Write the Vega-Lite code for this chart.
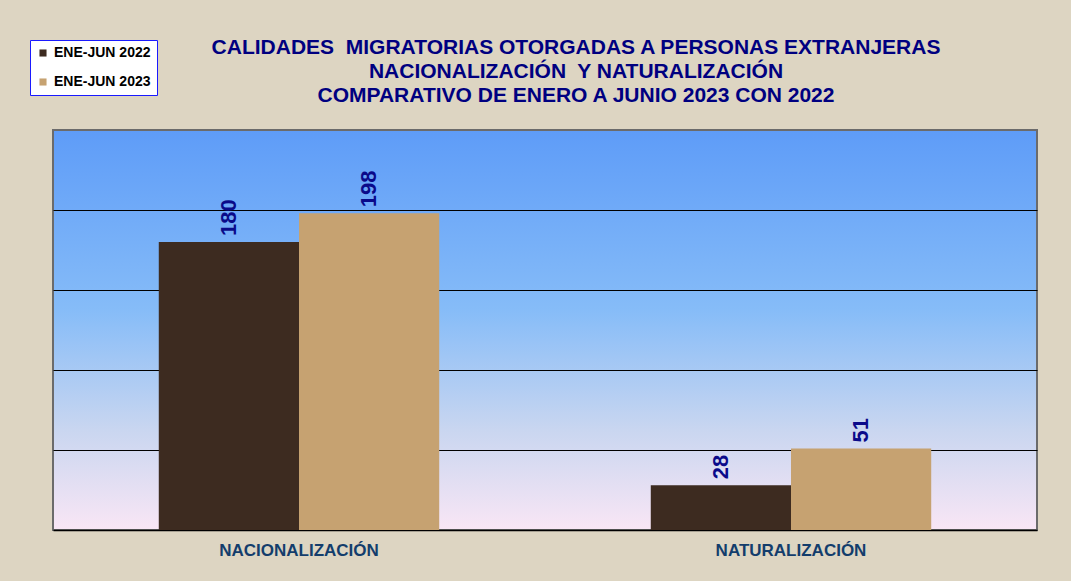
{
  "$schema": "https://vega.github.io/schema/vega-lite/v6.json",
  "width": 984,
  "height": 400,
  "autosize": {"type": "none"},
  "padding": {"left": 53, "top": 130, "right": 34, "bottom": 51},
  "background": "#ddd5c2",
  "title": {
    "text": [
      "CALIDADES\u00a0 MIGRATORIAS OTORGADAS A PERSONAS EXTRANJERAS",
      "NACIONALIZACIÓN\u00a0 Y NATURALIZACIÓN",
      "COMPARATIVO DE ENERO A JUNIO 2023 CON 2022"
    ],
    "anchor": "middle",
    "frame": "group",
    "dx": 31,
    "offset": -66,
    "font": "Liberation Sans",
    "fontSize": 21,
    "fontWeight": "bold",
    "color": "#000080",
    "lineHeight": 24
  },
  "data": {
    "values": [
      {"categoria": "NACIONALIZACIÓN", "periodo": "ENE-JUN 2022", "valor": 180},
      {"categoria": "NACIONALIZACIÓN", "periodo": "ENE-JUN 2023", "valor": 198},
      {"categoria": "NATURALIZACIÓN", "periodo": "ENE-JUN 2022", "valor": 28},
      {"categoria": "NATURALIZACIÓN", "periodo": "ENE-JUN 2023", "valor": 51}
    ]
  },
  "encoding": {
    "x": {
      "field": "categoria",
      "type": "nominal",
      "sort": ["NACIONALIZACIÓN", "NATURALIZACIÓN"],
      "scale": {"paddingInner": 0.43, "paddingOuter": 0.215},
      "axis": {
        "title": null,
        "labelAngle": 0,
        "ticks": false,
        "labelPadding": 12,
        "labelFont": "Liberation Sans",
        "labelFontSize": 17,
        "labelFontWeight": "bold",
        "labelColor": "#133d6c",
        "domainColor": "#000000",
        "domainWidth": 1.5
      }
    },
    "xOffset": {
      "field": "periodo",
      "type": "nominal",
      "sort": ["ENE-JUN 2022", "ENE-JUN 2023"],
      "scale": {"paddingInner": 0, "paddingOuter": 0}
    },
    "y": {
      "field": "valor",
      "type": "quantitative",
      "scale": {"domain": [0, 250], "nice": false},
      "axis": {
        "title": null,
        "labels": false,
        "ticks": false,
        "domain": false,
        "grid": true,
        "values": [50, 100, 150, 200],
        "gridColor": "#000000",
        "gridWidth": 1.2,
        "gridOpacity": 1
      }
    }
  },
  "layer": [
    {
      "mark": {"type": "bar"},
      "encoding": {
        "color": {
          "field": "periodo",
          "type": "nominal",
          "scale": {
            "domain": ["ENE-JUN 2022", "ENE-JUN 2023"],
            "range": ["#3d2b20", "#c6a271"]
          },
          "legend": {
            "title": null,
            "orient": "none",
            "legendX": -23,
            "legendY": -90,
            "symbolType": "square",
            "symbolSize": 50,
            "symbolStrokeWidth": 0,
            "labelFont": "Liberation Sans",
            "labelFontSize": 14,
            "labelFontWeight": "bold",
            "labelColor": "#000000",
            "labelOffset": 4,
            "rowPadding": 15,
            "padding": 6,
            "fillColor": "#ffffff",
            "strokeColor": "#1a1aff"
          }
        }
      }
    },
    {
      "mark": {
        "type": "text",
        "angle": 270,
        "align": "left",
        "baseline": "middle",
        "dx": 6,
        "font": "Liberation Sans",
        "fontSize": 22,
        "fontWeight": "bold",
        "color": "#0a0a8a"
      },
      "encoding": {
        "text": {"field": "valor", "type": "quantitative"}
      }
    }
  ],
  "config": {
    "view": {
      "fill": {
        "gradient": "linear",
        "x1": 0, "y1": 0, "x2": 0, "y2": 1,
        "stops": [
          {"offset": 0, "color": "#5e9cf8"},
          {"offset": 0.45, "color": "#86bcf8"},
          {"offset": 0.75, "color": "#c9d6f0"},
          {"offset": 1, "color": "#f9e6f5"}
        ]
      },
      "stroke": "#6b6b6b",
      "strokeWidth": 2
    }
  }
}
